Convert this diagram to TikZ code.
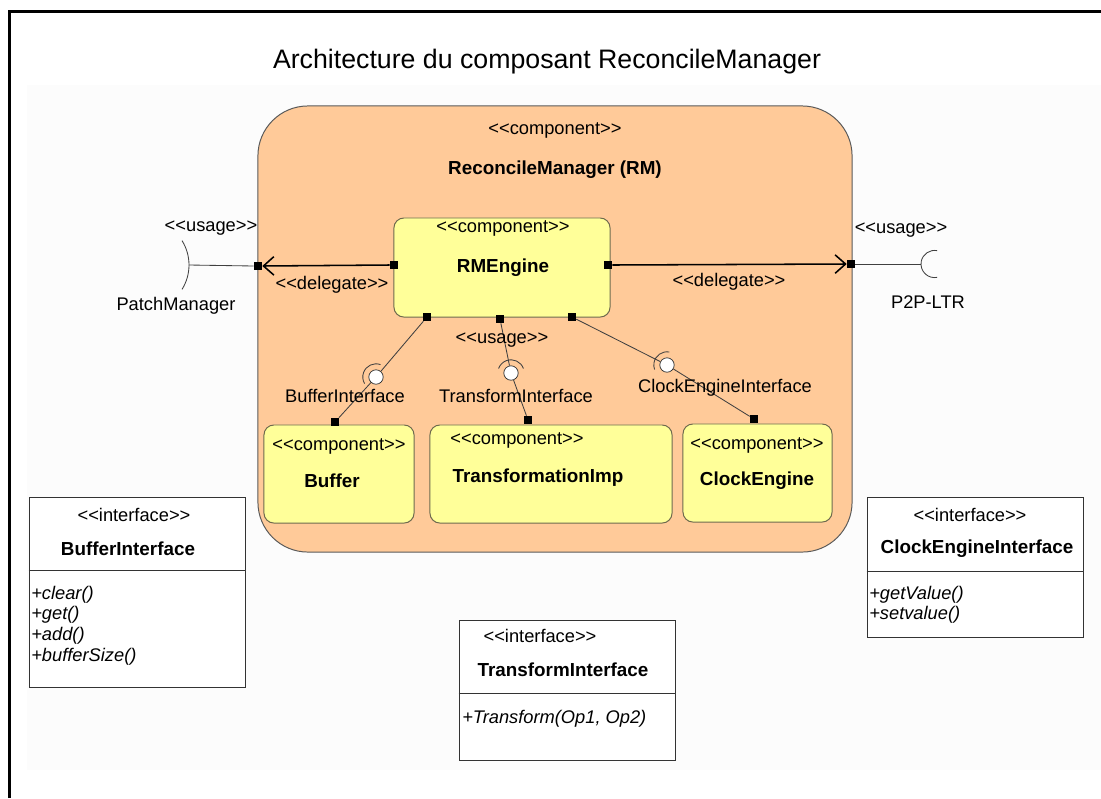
\documentclass[tikz,border=0pt]{standalone}
\usepackage{fontspec}
\setmainfont{Liberation Sans}[Ligatures=TeXOff]
\usepackage{tikz}
\usetikzlibrary{arrows.meta, calc}
\definecolor{rmfill}{HTML}{FFCA99}
\definecolor{rmline}{HTML}{5A5A5A}
\definecolor{compfill}{HTML}{FFFF99}
\definecolor{compline}{HTML}{6E6A4E}
\definecolor{bgshade}{HTML}{FCFCFC}

\begin{document}
\begin{tikzpicture}[x=0.025cm, y=-0.025cm,
  every node/.style={font=\fontsize{13}{15}\selectfont, inner sep=0pt},
  cname/.style={font=\fontsize{13.4}{16}\selectfont\bfseries},
  comp/.style={draw=compline, fill=compfill, rounded corners=7pt, line width=0.7pt},
  port/.style={fill=black, minimum size=0.2cm},
  ball/.style={circle, draw=black!80, fill=white, minimum size=0.36cm, line width=0.5pt},
  iface/.style={draw=black!80, fill=white, line width=0.6pt},
  op/.style={anchor=west, font=\fontsize{13}{15}\selectfont\itshape},
  wire/.style={draw=black!75, line width=0.6pt},
  delegate/.style={line width=1.1pt, -{Straight Barb[length=2.6mm, width=4.6mm]}}]
  \useasboundingbox (0,0) rectangle (1101,798);
  \fill[bgshade] (27,85) rectangle (1101,770);
  \draw[line width=1.6pt] (9.5,798) -- (9.5,11.5) -- (1101,11.5);

  \node[font=\fontsize{19}{22}\selectfont] (title) at (547,62) {Architecture du composant ReconcileManager};

  % ReconcileManager
  \node[draw=rmline, fill=rmfill, rounded corners=1.25cm, minimum width=14.85cm,
        minimum height=11.15cm, line width=0.7pt] (rm) at (555,329) {};
  \node (rmSt) at (555,130) {<<component>>};
  \node[cname] (rmName) at (555,170) {ReconcileManager (RM)};

  \node[comp, minimum width=5.4cm, minimum height=2.475cm] (eng) at (502,267.5) {};
  \node (engSt) at (503,228) {<<component>>};
  \node[cname] (engName) at (503,268) {RMEngine};

  \node[comp, minimum width=3.75cm, minimum height=2.45cm] (buf) at (339,474) {};
  \node (bufSt) at (339,446) {<<component>>};
  \node[cname] (bufName) at (332,481) {Buffer};

  \node[comp, minimum width=6.05cm, minimum height=2.45cm] (trImp) at (551,474) {};
  \node (trSt) at (517,440) {<<component>>};
  \node[cname] (trName) at (538,478) {TransformationImp};

  \node[comp, minimum width=3.725cm, minimum height=2.45cm] (clk) at (757.5,473) {};
  \node (clkSt) at (757,445) {<<component>>};
  \node[cname] (clkName) at (757,481) {ClockEngine};

  % ports
  \node[port] (pRMl) at (258,266) {};
  \node[port] (pRMr) at (851,264) {};
  \node[port] (pEl) at (394,265) {};
  \node[port] (pEr) at (608,265) {};
  \node[port] (pEb1) at (427,317) {};
  \node[port] (pEb2) at (500,319) {};
  \node[port] (pEb3) at (572,317) {};
  \node[port] (pBuf) at (335,422) {};
  \node[port] (pTr) at (528,420) {};
  \node[port] (pClk) at (754,419) {};

  \draw[delegate] (pEl.west) -- (pRMl.east);
  \draw[delegate] (pEr.east) -- (pRMr.west);
  \node (dlgL) at (332,285) {<<delegate>>};
  \node (dlgR) at (729,282) {<<delegate>>};

  % external usages
  \coordinate (sockL) at (189,265);
  \coordinate (sockR) at (921,264);
  \draw[wire] (pRMl.west) -- (sockL);
  \draw[wire] ($(sockL)+(-1.15cm,0)+(-32:1.15cm)$) arc[start angle=-32, end angle=32, radius=1.15cm];
  \draw[wire] (pRMr.east) -- (sockR);
  \draw[wire] ($(sockR)+(0.34cm,0)+(79:0.34cm)$) arc[start angle=79, end angle=281, radius=0.34cm];
  \node (usgL) at (211,228) {<<usage>>};
  \node (pm) at (176,306) {PatchManager};
  \node (usgR) at (901,230) {<<usage>>};
  \node (ltr) at (928,302) {P2P-LTR};

  % provided / required interfaces
  \node[ball] (bBuf) at (376,377) {};
  \node[ball] (bTr) at (511,373) {};
  \node[ball] (bClk) at (667,365) {};
  \draw[wire] (pEb1) -- (bBuf) -- (pBuf);
  \draw[wire] (pEb2) -- (bTr) -- (pTr);
  \draw[wire] (pEb3) -- (bClk) -- (pClk);
  \draw[wire] ([shift={(70:0.33cm)}]bBuf.center) arc[start angle=70, end angle=210, radius=0.33cm];
  \draw[wire] ([shift={(20:0.33cm)}]bTr.center) arc[start angle=20, end angle=160, radius=0.33cm];
  \draw[wire] ([shift={(80:0.33cm)}]bClk.center) arc[start angle=80, end angle=200, radius=0.33cm];
  \node (lbBuf) at (345,396) {BufferInterface};
  \node (lbTr) at (516,396) {TransformInterface};
  \node (lbClk) at (725,388) {ClockEngineInterface};
  \node (usgT) at (502,340) {<<usage>>};

  % interface classes
  \node[iface, minimum width=5.4cm, minimum height=4.75cm] (bufI) at (137,592) {};
  \draw[iface] ($(bufI.north west)+(0,74)$) -- ($(bufI.north east)+(0,74)$);
  \node (bufISt) at (134,515) {<<interface>>};
  \node[cname] (bufIName) at (128,549) {BufferInterface};
  \node[op] (opClear) at (31,595) {+clear()};
  \node[op] (opGet) at (31,615) {+get()};
  \node[op] (opAdd) at (31,636) {+add()};
  \node[op] (opSize) at (31,657) {+bufferSize()};

  \node[iface, minimum width=5.4cm, minimum height=3.5cm] (clkI) at (975,567) {};
  \draw[iface] ($(clkI.north west)+(0,75)$) -- ($(clkI.north east)+(0,75)$);
  \node (clkISt) at (970,515) {<<interface>>};
  \node[cname] (clkIName) at (977,549) {ClockEngineInterface};
  \node[op] (opGetV) at (869,595) {+getValue()};
  \node[op] (opSetV) at (869,615) {+setvalue()};

  \node[iface, minimum width=5.4cm, minimum height=3.5cm] (trI) at (567,690) {};
  \draw[iface] ($(trI.north west)+(0,74)$) -- ($(trI.north east)+(0,74)$);
  \node (trISt) at (540,636) {<<interface>>};
  \node[cname] (trIName) at (563,670) {TransformInterface};
  \node[op] (opTr) at (462,719) {+Transform(Op1, Op2)};
\end{tikzpicture}
\end{document}
